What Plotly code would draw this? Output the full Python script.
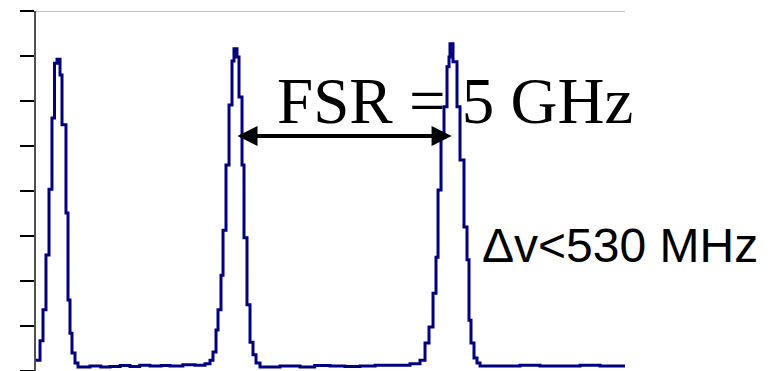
import plotly.graph_objects as go

# Frequency (GHz) and transmitted intensity (arb. units), step-like scan
freq_ghz = [0.000, 0.093, 0.162, 0.231, 0.301, 0.370, 0.428, 0.486, 0.556, 0.602,
            0.694, 0.741, 0.787, 0.833, 0.903, 0.972, 1.250, 1.500, 1.713, 1.950,
            2.176, 2.400, 2.639, 2.900, 3.102, 3.400, 3.681, 3.912, 4.028, 4.097,
            4.167, 4.213, 4.282, 4.329, 4.398, 4.468, 4.537, 4.583, 4.653, 4.699,
            4.769, 4.815, 4.884, 4.954, 5.023, 5.093, 5.185, 5.648, 6.111, 6.450,
            6.806, 7.150, 7.500, 7.850, 8.194, 8.657, 8.889, 9.005, 9.097, 9.190,
            9.259, 9.306, 9.375, 9.444, 9.514, 9.560, 9.583, 9.653, 9.745, 9.815,
            9.907, 9.977, 10.023, 10.069, 10.139, 10.208, 10.278, 10.741, 11.204,
            11.667, 12.130, 12.593, 13.056, 13.634]
intensity = [0.24, 0.67, 1.36, 2.58, 4.04, 5.62, 6.84, 6.93, 6.58, 5.47,
             3.51, 1.58, 0.84, 0.40, 0.18, 0.09, 0.11, 0.09, 0.10, 0.12,
             0.10, 0.13, 0.11, 0.12, 0.11, 0.14, 0.13, 0.16, 0.24, 0.42,
             0.91, 1.36, 2.13, 3.13, 4.58, 5.91, 6.89, 7.16, 6.98, 6.09,
             4.58, 2.96, 1.47, 0.64, 0.36, 0.18, 0.09, 0.11, 0.09, 0.12,
             0.11, 0.10, 0.11, 0.13, 0.13, 0.16, 0.24, 0.62, 0.98, 1.73,
             2.53, 4.02, 5.20, 5.87, 6.76, 6.98, 7.27, 6.87, 5.87, 4.69,
             3.20, 2.47, 1.13, 0.62, 0.29, 0.18, 0.11, 0.11, 0.13,
             0.11, 0.11, 0.13, 0.11, 0.11]

y_ticks = [0, 1, 2, 3, 4, 5, 6, 7, 8]

fsr_start, fsr_end, fsr_level = 4.63, 9.62, 5.22
fsr_label = "FSR = 5 GHz"
linewidth_label = "Δv<530 MHz"

fig = go.Figure()
fig.add_trace(go.Scatter(
    x=freq_ghz, y=intensity, mode="lines", line_shape="hv",
    line=dict(color="#000080", width=3), hoverinfo="skip", showlegend=False,
))

# FSR double arrow
fig.add_annotation(
    x=fsr_end, y=fsr_level, ax=fsr_start, ay=fsr_level,
    xref="x", yref="y", axref="x", ayref="y",
    text="", showarrow=True, arrowside="end+start",
    arrowhead=2, startarrowhead=2, arrowsize=1.0, startarrowsize=1.0,
    arrowwidth=4, arrowcolor="black", standoff=0, startstandoff=0,
)
fig.add_annotation(
    x=9.70, y=6.0, xref="x", yref="y", text=fsr_label, showarrow=False,
    font=dict(family="Liberation Serif", size=65, color="black"),
    xanchor="center", yanchor="middle",
)
fig.add_annotation(
    x=13.51, y=2.78, xref="x", yref="y", text=linewidth_label, showarrow=False,
    font=dict(family="Liberation Sans", size=48, color="black"),
    xanchor="center", yanchor="middle",
)

# light top border
fig.add_shape(type="line", xref="paper", yref="y", x0=0, x1=1, y0=8, y1=8,
              line=dict(color="#c4c4c4", width=2), layer="below")

fig.update_xaxes(range=[0, 13.634], visible=False)
fig.update_yaxes(
    range=[0, 8], tickvals=y_ticks, showticklabels=False,
    ticks="outside", ticklen=14, tickwidth=1.5, tickcolor="black",
    showline=True, linecolor="#505050", linewidth=2,
    showgrid=False, zeroline=False,
)
fig.update_layout(
    width=779, height=371,
    margin=dict(l=36, r=154, t=11, b=0),
    plot_bgcolor="white", paper_bgcolor="white",
)
fig.write_html("out.html", config={"displayModeBar": False},
               post_script="document.body.style.margin='0';document.body.style.overflow='hidden';")
